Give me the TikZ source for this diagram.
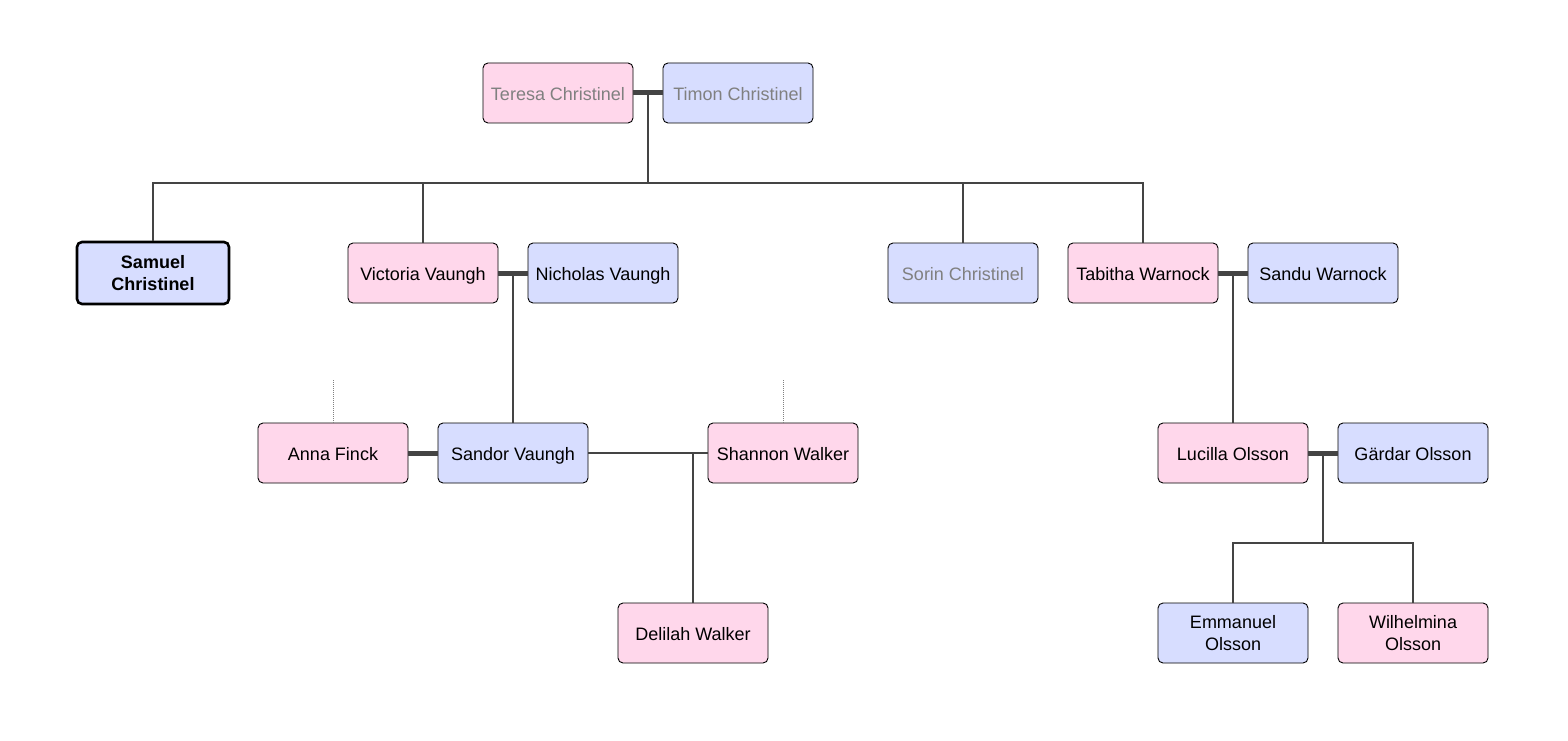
\documentclass[tikz,border=0pt]{standalone}
\usepackage{fontspec}
\setmainfont{Liberation Sans}
\definecolor{fpink}{HTML}{FFD7EB}
\definecolor{fblue}{HTML}{D7DDFF}
\definecolor{lnk}{HTML}{444444}
\definecolor{dim}{HTML}{808080}
\newcommand\tstrut{\rule[-4pt]{0pt}{23pt}}
\begin{document}
\begin{tikzpicture}[x=1pt,y=-1pt,
  person/.style={draw=black, line width=0.9pt, rounded corners=5pt, minimum width=150pt, minimum height=60pt, inner sep=0pt, align=center, font=\fontsize{18}{22}\selectfont},
  fem/.style={person, fill=fpink},
  mal/.style={person, fill=fblue},
  gone/.style={text=dim},
  link/.style={draw=lnk, line width=2pt},
  wed/.style={draw=lnk, line width=5pt},
  stub/.style={draw=dim, line width=1pt, dash pattern=on 1pt off 1pt}]
\useasboundingbox[fill=white] (0,0) rectangle (1568,741);
% people
\node[fem,gone] (teresa) at (558,93) {\tstrut Teresa Christinel};
\node[mal,gone] (timon) at (738,93) {\tstrut Timon Christinel};
\node[mal,line width=2.6pt,minimum width=152pt,minimum height=62pt,font=\fontsize{18}{22}\selectfont\bfseries] (samuel) at (153,273) {Samuel\\Christinel};
\node[fem] (victoria) at (423,273) {\tstrut Victoria Vaungh};
\node[mal] (nicholas) at (603,273) {\tstrut Nicholas Vaungh};
\node[mal,gone] (sorin) at (963,273) {\tstrut Sorin Christinel};
\node[fem] (tabitha) at (1143,273) {\tstrut Tabitha Warnock};
\node[mal] (sandu) at (1323,273) {\tstrut Sandu Warnock};
\node[fem] (anna) at (333,453) {\tstrut Anna Finck};
\node[mal] (sandor) at (513,453) {\tstrut Sandor Vaungh};
\node[fem] (shannon) at (783,453) {\tstrut Shannon Walker};
\node[fem] (lucilla) at (1233,453) {\tstrut Lucilla Olsson};
\node[mal] (gardar) at (1413,453) {\tstrut Gärdar Olsson};
\node[fem] (delilah) at (693,633) {\tstrut Delilah Walker};
\node[mal] (emmanuel) at (1233,633) {Emmanuel\\Olsson};
\node[fem] (wilhelmina) at (1413,633) {Wilhelmina\\Olsson};
% junction coordinates
\coordinate (m1) at (648,93);
\coordinate (bus1) at (648,183);
\coordinate (m2) at (513,273);
\coordinate (m3) at (1233,273);
\coordinate (j4) at (693,453);
\coordinate (m5) at (1323,453);
\coordinate (bus5) at (1323,543);
\coordinate (annaup) at (333,380);
\coordinate (shannonup) at (783,380);
% marriages
\draw[wed] (teresa.east) -- (timon.west);
\draw[wed] (victoria.east) -- (nicholas.west);
\draw[wed] (tabitha.east) -- (sandu.west);
\draw[wed] (anna.east) -- (sandor.west);
\draw[wed] (lucilla.east) -- (gardar.west);
% descent
\draw[link] (m1) -- (bus1);
\draw[link] (bus1) -| (samuel.north);
\draw[link] (bus1) -| (victoria.north);
\draw[link] (bus1) -| (sorin.north);
\draw[link] (bus1) -| (tabitha.north);
\draw[link] (m2) -- (sandor.north);
\draw[link] (m3) -- (lucilla.north);
\draw[link] (sandor.east) -- (shannon.west);
\draw[link] (j4) -- (delilah.north);
\draw[link] (m5) -- (bus5);
\draw[link] (bus5) -| (emmanuel.north);
\draw[link] (bus5) -| (wilhelmina.north);
% stubs
\draw[stub] (annaup) -- (anna.north);
\draw[stub] (shannonup) -- (shannon.north);
\end{tikzpicture}
\end{document}
